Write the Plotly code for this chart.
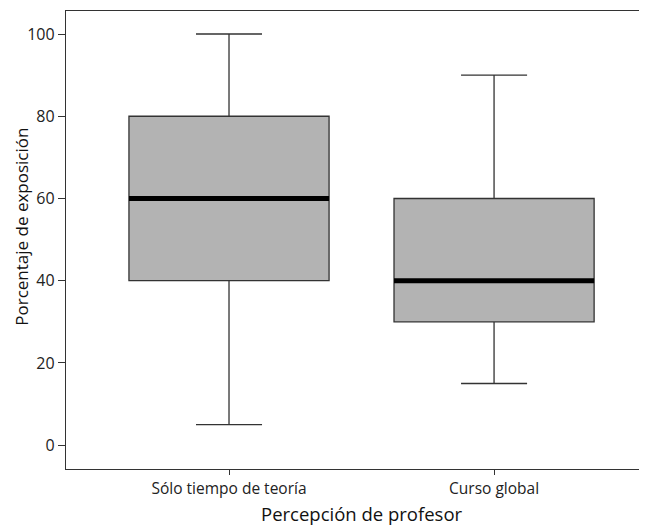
import plotly.graph_objects as go

categories = ["Sólo tiempo de teoría", "Curso global"]
lower_whisker = [5, 15]
q1_values = [40, 30]
median_values = [60, 40]
q3_values = [80, 60]
upper_whisker = [100, 90]
y_ticks = [0, 20, 40, 60, 80, 100]

BOX_W = 0.755
fig = go.Figure()
for i, c in enumerate(categories):
    fig.add_trace(go.Box(
        x=[i], q1=[q1_values[i]], median=[median_values[i]], q3=[q3_values[i]],
        lowerfence=[lower_whisker[i]], upperfence=[upper_whisker[i]],
        width=BOX_W, whiskerwidth=0.33,
        fillcolor="#b3b3b3", line=dict(color="#333333", width=1.3),
        boxpoints=False, showlegend=False, hoverinfo="skip", name=c,
    ))
    fig.add_trace(go.Scatter(
        x=[i - BOX_W / 2, i + BOX_W / 2], y=[median_values[i]] * 2,
        mode="lines", line=dict(color="black", width=5),
        showlegend=False, hoverinfo="skip",
    ))

fig.update_layout(
    width=639, height=519,
    margin=dict(l=58, r=0, t=3, b=58),
    plot_bgcolor="white", paper_bgcolor="white",
    font=dict(family="Open Sans, Noto Sans, sans-serif", color="#222222", size=15),
    xaxis=dict(
        range=[-0.615, 1.577], tickvals=[0, 1], ticktext=categories,
        showline=True, linecolor="#333333", linewidth=1.3, mirror=True,
        ticks="outside", ticklen=5, tickcolor="#333333", showgrid=False, zeroline=False,
        tickfont=dict(size=15.5),
    ),
    yaxis=dict(
        range=[-5.8, 105.6], tickvals=y_ticks,
        showline=True, linecolor="#333333", linewidth=1.3, mirror=False,
        ticks="outside", ticklen=7, tickcolor="#333333", showgrid=False, zeroline=False,
        tickfont=dict(size=16),
    ),
    annotations=[
        dict(text="Percepción de profesor", xref="paper", yref="paper",
             x=0.509, y=-0.098, xanchor="center", yanchor="middle", showarrow=False,
             borderpad=0, font=dict(size=18.5, color="#111111")),
        dict(text="Porcentaje de exposición", xref="paper", yref="paper",
             x=-0.077, y=0.5295, xanchor="center", yanchor="middle", showarrow=False,
             borderpad=0, textangle=-90, font=dict(size=17, color="#111111")),
    ],
)
fig.write_html("out.html")
